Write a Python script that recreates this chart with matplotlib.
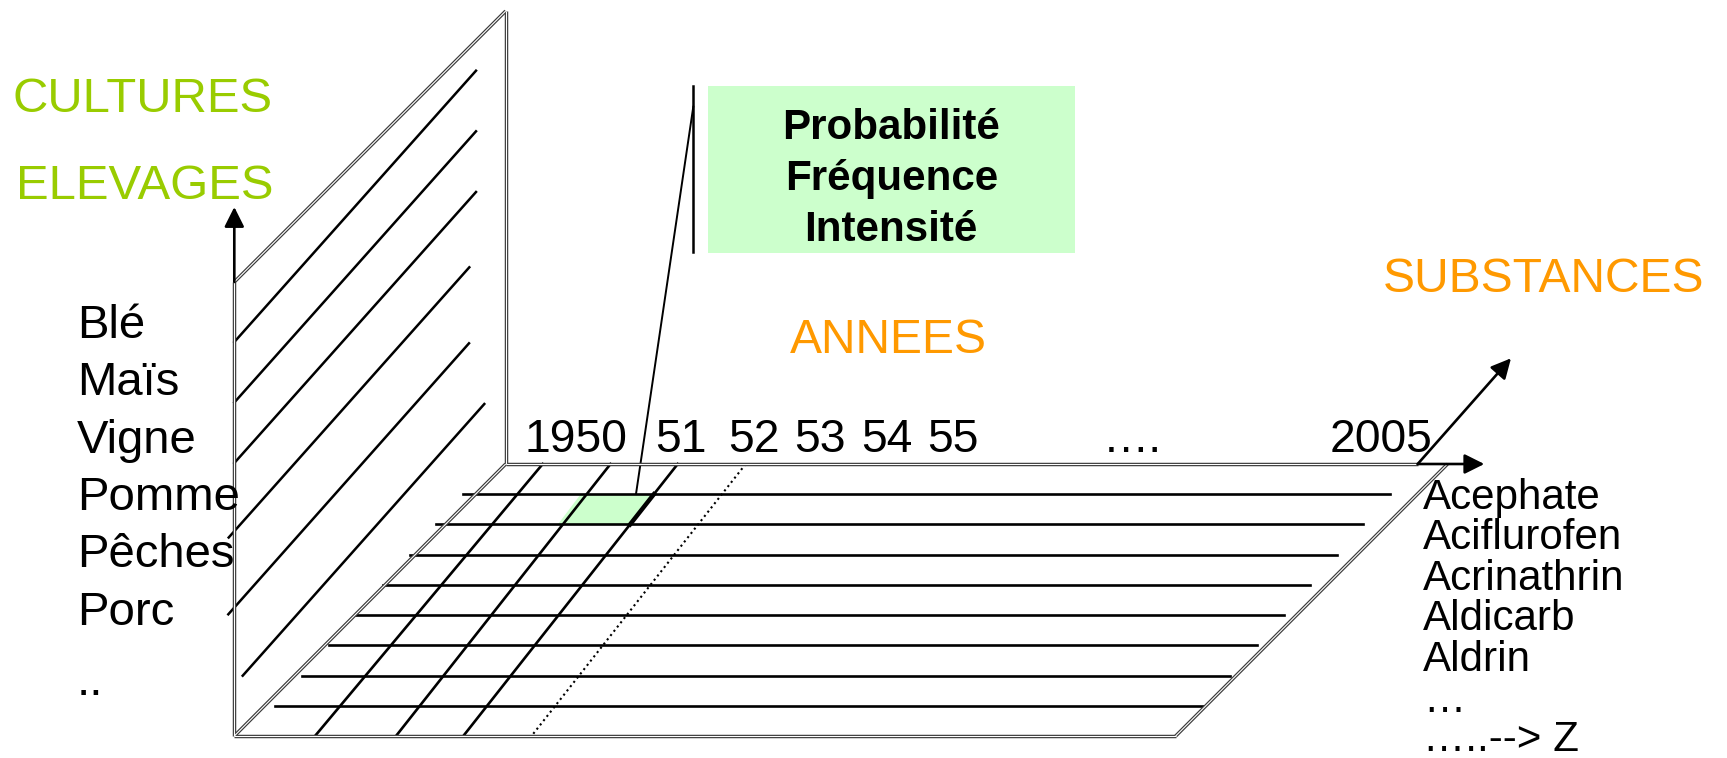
import matplotlib
matplotlib.use("Agg")
import matplotlib.pyplot as plt
import numpy as np

plt.rcParams['font.family'] = ['Liberation Sans', 'DejaVu Sans']

# --- texts ---
cultures = ["Blé", "Maïs", "Vigne", "Pomme", "Pêches", "Porc", ".."]
years = ["1950", "51", "52", "53", "54", "55", "….", "2005"]
substances = ["Acephate", "Aciflurofen", "Acrinathrin", "Aldicarb", "Aldrin", "…", "…..--> Z"]
box_lines = ["Probabilité", "Fréquence", "Intensité"]

# --- geometry (pixel space of the slide) ---
W, H = 1727, 758
wall_front_x, wall_back_x = 234.3, 505.7
wall_top_front, wall_top_back = 282, 11
floor_back_y, floor_front_y = 464, 736
floor_right_back, floor_right_front = 1447.5, 1175.7

# lines drawn on the wall (start on the front edge, end near the back)
wall_x0 = [234.3, 234.3, 234.3, 228.7, 228.3, 242.7]
wall_y0 = [342, 402.5, 463, 537.5, 614.3, 675.7]
wall_x1 = [476, 476, 476, 469.3, 469, 484.3]
wall_y1 = [70.7, 131.3, 192, 267.3, 343.3, 404]

# floor rows (substances) and columns (years)
n_rows = 8
col_top = [542.7, 610.5, 677.7, 745.7]
col_bot = [315, 396, 463.3, 531.5]
col_dotted = [False, False, False, True]

# text positions
culture_x = 77
culture_base = [338.3, 395, 453.3, 510, 566.7, 625, 695]
year_x = [525, 655, 728.5, 794.5, 861, 927.5, 1103, 1330]
year_base = 451.7
subst_x = 1423
subst_base = [509.3, 549.3, 590, 630, 670.7, 711.7, 751]

green = "#99CC00"
orange = "#FF9900"
cell = "#CCFFCC"

fig = plt.figure(figsize=(W / 100, H / 100), dpi=100)
ax = fig.add_axes([0, 0, 1, 1])
ax.set_xlim(0, W)
ax.set_ylim(H, 0)
ax.axis('off')


def dline(xs, ys):
    # double outline (grey edges, white core)
    ax.plot(xs, ys, color='#3a3a3a', lw=2.5, solid_capstyle='butt', zorder=3)
    ax.plot(xs, ys, color='white', lw=0.8, solid_capstyle='butt', zorder=4)


def arrow(x0, y0, x1, y1):
    ax.annotate("", xy=(x1, y1), xytext=(x0, y0),
                arrowprops=dict(arrowstyle='-|>,head_length=0.6,head_width=0.3',
                                mutation_scale=20, lw=1.9, color='black',
                                shrinkA=0, shrinkB=0), zorder=5)


# wall diagonals
for x0, y0, x1, y1 in zip(wall_x0, wall_y0, wall_x1, wall_y1):
    ax.plot([x0, x1], [y0, y1], color='black', lw=1.8, zorder=2)

# floor rows
depth = floor_front_y - floor_back_y
row_y = floor_back_y + depth * np.arange(1, n_rows + 1) / (n_rows + 1)
left_end = 463.3 - (row_y - row_y[0]) * 0.89
right_end = 1390 - (row_y - row_y[0]) * 0.88
for y, xl, xr in zip(row_y, left_end, right_end):
    ax.plot([xl, xr], [y, y], color='black', lw=1.9, zorder=2)


def col_x(i, y):
    t = (y - floor_back_y) / depth
    return col_top[i] + (col_bot[i] - col_top[i]) * t


# highlighted cell (1950/51, first substance)
ya, yb = row_y[0], row_y[1]
ax.fill([col_x(1, ya) - 6, col_x(2, ya), col_x(2, yb), col_x(1, yb) - 5],
        [ya, ya, yb, yb], color=cell, zorder=1.5, lw=0)

# floor columns
for i in range(len(col_top)):
    ls = (0, (1, 1.6)) if col_dotted[i] else '-'
    lw = 1.5 if col_dotted[i] else 1.9
    ax.plot([col_top[i], col_bot[i]], [floor_back_y, floor_front_y],
            color='black', lw=lw, linestyle=ls, zorder=2)
ax.plot([col_x(2, ya), col_x(2, yb)], [ya, yb], color='black', lw=3.2, zorder=2.5)

# outlines
dline([wall_front_x, wall_front_x], [wall_top_front, floor_front_y])
dline([wall_back_x, wall_back_x], [wall_top_back, floor_back_y])
dline([wall_front_x, wall_back_x], [wall_top_front, wall_top_back])
dline([wall_front_x, wall_back_x], [floor_front_y, floor_back_y])
dline([wall_back_x, 1417.7], [floor_back_y, floor_back_y])
dline([wall_front_x, floor_right_front], [floor_front_y, floor_front_y])
dline([floor_right_front, floor_right_back], [floor_front_y, floor_back_y])

# axes arrows
arrow(wall_front_x, wall_top_front, wall_front_x, 207)
arrow(1417.7, floor_back_y, 1484.3, floor_back_y)
arrow(1417.7, floor_back_y, 1511, 358.3)

# callout box
ax.add_patch(plt.Rectangle((707.7, 86), 1075 - 707.7, 252.7 - 86,
                           facecolor=cell, edgecolor='none', zorder=1))
ax.plot([693.3, 693.3], [86, 252], color='black', lw=1.8, zorder=2)
ax.plot([636, 693.3], [494, 106.7], color='black', lw=1.4, zorder=2)
for txt, yb_ in zip(box_lines, [139.3, 190, 241]):
    ax.text(891.3, yb_, txt, ha='center', va='baseline', fontsize=30.3,
            fontweight='bold', color='black', zorder=6)

# axis titles
ax.text(13, 111.7, "CULTURES", fontsize=35.3, color=green, va='baseline', ha='left')
ax.text(16, 199, "ELEVAGES", fontsize=35.3, color=green, va='baseline', ha='left')
ax.text(790, 353.3, "ANNEES", fontsize=34.6, color=orange, va='baseline', ha='left')
ax.text(1383, 292.5, "SUBSTANCES", fontsize=34.6, color=orange, va='baseline', ha='left')

# category labels
for txt, yb_ in zip(cultures, culture_base):
    ax.text(culture_x, yb_, txt, fontsize=34, va='baseline', ha='left', zorder=6)
for txt, x in zip(years, year_x):
    ax.text(x, year_base, txt, fontsize=33.3, va='baseline', ha='left', zorder=6)
for txt, yb_ in zip(substances, subst_base):
    ax.text(subst_x, yb_, txt, fontsize=30.3, va='baseline', ha='left', zorder=6)

fig.savefig("out.png", dpi=100, facecolor='white')
